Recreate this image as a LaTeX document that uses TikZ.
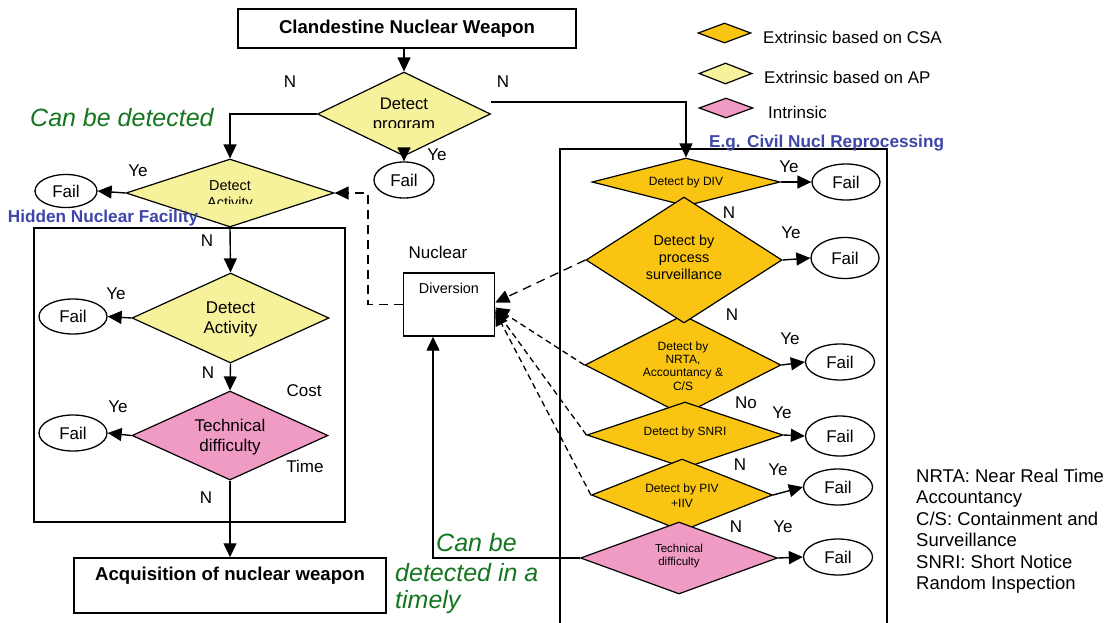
\documentclass[tikz,border=0pt]{standalone}
\usepackage{fontspec}
\setmainfont{Liberation Sans}
\usetikzlibrary{shapes.geometric,arrows.meta}
\definecolor{paleY}{RGB}{246,241,155}
\definecolor{orangeY}{RGB}{249,197,18}
\definecolor{pinkI}{RGB}{240,155,195}
\definecolor{blueT}{RGB}{62,70,170}
\definecolor{greenT}{RGB}{20,118,30}
\tikzset{
  dmd/.style 2 args={diamond, draw=black, line width=1.2pt, inner sep=0pt, minimum width=#1, minimum height=#2},
  failnode/.style 2 args={ellipse, draw=black, line width=1.3pt, inner sep=0pt, minimum width=#1, minimum height=#2, font=\fontsize{17}{20}\selectfont},
  boxnode/.style={rectangle, draw=black, line width=1.5pt, inner sep=0pt},
  fs12/.style={font=\fontsize{12}{13.5}\selectfont, align=center, inner sep=0pt},
  fs14/.style={font=\fontsize{14.4}{17}\selectfont, align=center, inner sep=0pt},
  fs17/.style={font=\fontsize{17}{20}\selectfont, align=center, inner sep=0pt},
  lbl/.style={font=\fontsize{17}{20}\selectfont, inner sep=0pt},
  bold18/.style={font=\bfseries\fontsize{18.6}{22}\selectfont},
  bluelbl/.style={font=\bfseries\fontsize{17.2}{20}\selectfont, text=blueT, inner sep=0pt},
  greenlbl/.style={font=\itshape\fontsize{25}{30}\selectfont, text=greenT, inner sep=0pt},
  arr/.style={line width=1.4pt, -{Triangle[length=14pt,width=13pt]}},
  dlong/.style={line width=1.3pt, dash pattern=on 9pt off 6pt, -{Triangle[length=14pt,width=13pt]}},
  dshort/.style={line width=1.3pt, dash pattern=on 6pt off 4pt, -{Triangle[length=14pt,width=13pt]}}
}
\begin{document}
\begin{tikzpicture}[x=1pt,y=-1pt]
\useasboundingbox (0,0) rectangle (1113,622);
\fill[white] (0,0) rectangle (1113,622);

% ---------- left column ----------
\node[boxnode, minimum width=338pt, minimum height=39pt, bold18] (top) at (407,28.5) {Clandestine Nuclear Weapon};
\node[dmd={173pt}{84pt}, fill=paleY] (dprog) at (404,114) {};
\begin{scope}
\clip (330,80) rectangle (480,127.5);
\node[fs17, font=\fontsize{16.7}{20}\selectfont] (dprogT) at (404,115) {Detect\\program};
\end{scope}
\node[failnode={60pt}{36pt}] (f0) at (404,180) {Fail};

\node[boxnode, line width=1.6pt, minimum width=311pt, minimum height=294pt] (hidden) at (189.5,375) {};
\node[dmd={208pt}{68pt}, fill=paleY] (dact1) at (230,193) {};
\begin{scope}
\clip (160,170) rectangle (300,203);
\node[fs14] (dact1T) at (230,196) {Detect\\Activity};
\end{scope}
\node[failnode={62pt}{33pt}] (f1) at (66,191) {Fail};
\node[bluelbl] (hidlab) at (103,218) {Hidden Nuclear Facility};

\node[dmd={197pt}{90pt}, fill=paleY] (dact2) at (230.5,318) {};
\node[fs17] (dact2T) at (230.5,319) {Detect\\Activity};
\node[failnode={68pt}{35pt}] (f2) at (73,316.5) {Fail};

\node[dmd={196pt}{89pt}, fill=pinkI] (tech1) at (230,435.5) {};
\node[fs17] (tech1T) at (230,437) {Technical\\difficulty};
\node[failnode={68pt}{36pt}] (f3) at (73,433) {Fail};

\node[boxnode, minimum width=312pt, minimum height=55pt] (acq) at (230,585.5) {};
\node[bold18, inner sep=0pt] (acqT) at (230,576) {Acquisition of nuclear weapon};

\node[boxnode, line width=1.4pt, minimum width=91pt, minimum height=63pt] (div) at (449,304.5) {};
\node[fs14] (divT) at (449,288) {Diversion};
\node[lbl] (nucl) at (438,252) {Nuclear};

% ---------- right column ----------
\draw[line width=1.4pt] (560,630) -- (560,149) -- (887,149) -- (887,630);
\node[bluelbl, anchor=west] (civlab) at (709,143) {E.g. Civil Nucl Reprocessing};

\node[dmd={188pt}{48pt}, fill=orangeY] (ddiv) at (686,182) {};
\node[dmd={196pt}{100pt}, fill=orangeY] (nrta) at (683,365) {};
\node[dmd={196pt}{126pt}, fill=orangeY] (surv) at (684,260) {};
\node[dmd={196pt}{66pt}, fill=orangeY] (snri) at (685,435) {};
\node[dmd={181pt}{72pt}, fill=orangeY] (piv) at (682,495) {};
\node[dmd={197pt}{72pt}, fill=pinkI] (tech2) at (679,558) {};

\node[fs12] (ddivT) at (686,182) {Detect by DIV};
\node[fs14] (survT) at (684,257) {Detect by\\process\\surveillance};
\node[fs12, font=\fontsize{12}{13.4}\selectfont] (nrtaT) at (683,366) {Detect by\\NRTA,\\Accountancy \&\\C/S};
\node[fs12] (snriT) at (685,432) {Detect by SNRI};
\node[fs12, font=\fontsize{12}{15}\selectfont] (pivT) at (682,495.5) {Detect by PIV\\+IIV};
\node[fs12, font=\fontsize{11.5}{13}\selectfont] (tech2T) at (679,556.5) {Technical\\difficulty};

\node[failnode={68pt}{36pt}] (fdiv) at (846,182) {Fail};
\node[failnode={68pt}{41pt}] (fsurv) at (845,258) {Fail};
\node[failnode={69pt}{36pt}] (fnrta) at (840,362) {Fail};
\node[failnode={69pt}{40pt}] (fsnri) at (840,436) {Fail};
\node[failnode={69pt}{36pt}] (fpiv) at (838,487) {Fail};
\node[failnode={69pt}{36pt}] (ftech) at (838,557) {Fail};

% ---------- legend ----------
\node[dmd={53pt}{20pt}, fill=orangeY] (leg1) at (724.5,33) {};
\node[dmd={53pt}{21pt}, fill=paleY] (leg2) at (725.5,73.5) {};
\node[dmd={54pt}{20pt}, fill=pinkI] (leg3) at (726,108) {};
\node[lbl, anchor=west] (leg1T) at (763,37) {Extrinsic based on CSA};
\node[lbl, anchor=west] (leg2T) at (764,77) {Extrinsic based on AP};
\node[lbl, anchor=west] (leg3T) at (768,112) {Intrinsic};

\node[anchor=west, inner sep=0pt, align=left, font=\fontsize{18.5}{21.5}\selectfont] (notes) at (916,531)
  {NRTA: Near Real Time\\Accountancy\\C/S: Containment and\\Surveillance\\SNRI: Short Notice\\Random Inspection};

% ---------- green notes ----------
\node[greenlbl, anchor=west] (cbd) at (30,118) {Can be detected};
\node[greenlbl, anchor=west] (cb1) at (436,543) {Can be};
\node[greenlbl, anchor=west] (cb2) at (395,573) {detected in a};
\node[greenlbl, anchor=west] (cb3) at (395,602) {timely};

% ---------- connectors ----------
\draw[arr] (dprog.north |- top.south) -- (dprog.north);
\draw[arr] (dprog.west) -| (dact1.north);
\draw[arr] ([yshift=12pt]dprog.east) -| (ddiv.north);
\draw[arr] (dprog.south) -- (f0.north);
\draw[arr] (dact1.west) -- (f1.east);
\draw[arr] (dact1.south) -- (dact2.north);
\draw[arr] (dact2.west) -- (f2.east);
\draw[arr] (dact2.south) -- (tech1.north);
\draw[arr] (tech1.west) -- (f3.east);
\draw[arr] (tech1.south) -- (acq.north);

\coordinate (dk) at (368,193);
\draw[dlong] (div.west) -| (dk) -- (dact1.east);
\draw[arr] (tech2.west) -| ([xshift=-16pt]div.south);

\draw[dlong] (surv.west) -- ([yshift=2pt]div.east);
\draw[dshort] (nrta.west) -- ([yshift=-3pt]div.east);
\draw[dshort] (snri.west) -- ([yshift=-5pt]div.east);
\draw[dshort] (piv.west) -- ([yshift=-7pt]div.east);

\draw[arr] (ddiv.east) -- (fdiv.west);
\draw[arr] (surv.east) -- (fsurv.west);
\draw[arr] (nrta.east) -- (fnrta.west);
\draw[arr] (snri.east) -- (fsnri.west);
\draw[arr] (piv.east) -- (fpiv.west);
\draw[arr] (tech2.east) -- (ftech.west);

% ---------- edge labels ----------
\node[lbl] (n1) at (290,82) {N};
\node[lbl] (n2) at (503,82) {N};
\node[lbl] (y0) at (437,155) {Ye};
\node[lbl] (y1) at (138,171) {Ye};
\node[lbl] (n3) at (207,241) {N};
\node[lbl] (y2) at (116,294) {Ye};
\node[lbl] (n4) at (208,373) {N};
\node[lbl] (y3) at (118,407) {Ye};
\node[lbl] (cost) at (304,391) {Cost};
\node[lbl] (time) at (305,466) {Time};
\node[lbl] (n5) at (206,498) {N};
\node[lbl] (ydiv) at (789,167) {Ye};
\node[lbl] (ndiv) at (729,213) {N};
\node[lbl] (ysurv) at (791,233) {Ye};
\node[lbl] (nsurv) at (732,315) {N};
\node[lbl] (ynrta) at (790,339) {Ye};
\node[lbl] (nonrta) at (746,403) {No};
\node[lbl] (ysnri) at (782,413) {Ye};
\node[lbl] (nsnri) at (740,465) {N};
\node[lbl] (ypiv) at (778,470) {Ye};
\node[lbl] (npiv) at (736,527) {N};
\node[lbl] (ytech) at (783,527) {Ye};
\end{tikzpicture}
\end{document}
